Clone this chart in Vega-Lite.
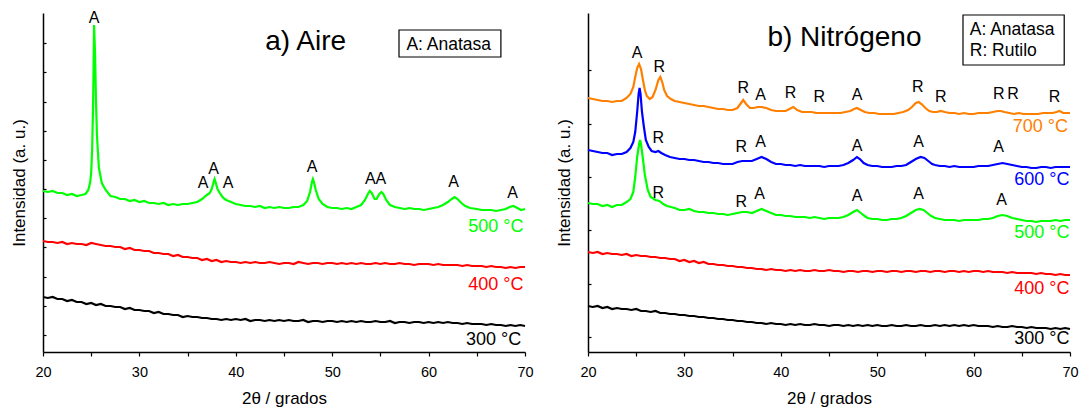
{
"$schema": "https://vega.github.io/schema/vega-lite/v6.json",
"autosize": {"type": "none"},
"padding": {"left": 43, "top": 13, "right": 1040, "bottom": 398},
"background": "white",
"bounds": "flush",
"spacing": 63,
"config": {"view": {"stroke": null}, "font": "Liberation Sans",
  "axis": {"grid": false, "domainColor": "black", "domainWidth": 1.5, "tickColor": "black", "tickWidth": 1.2, "labelColor": "black", "titleColor": "black", "titleFontWeight": "normal", "labelFontSize": 14.5, "titleFontSize": 17, "labelFont": "Liberation Sans", "titleFont": "Liberation Sans"}},
"datasets": {
"la": [
{"s":"300","x":20,"y":55},{"s":"300","x":20.5,"y":54},{"s":"300","x":21,"y":55},{"s":"300","x":21.5,"y":53},{"s":"300","x":22,"y":53},{"s":"300","x":22.5,"y":51},{"s":"300","x":23,"y":52},{"s":"300","x":23.5,"y":50},{"s":"300","x":24,"y":50},{"s":"300","x":24.5,"y":48},{"s":"300","x":25,"y":49},{"s":"300","x":25.5,"y":47},{"s":"300","x":26,"y":48},{"s":"300","x":26.5,"y":46},{"s":"300","x":27,"y":46},{"s":"300","x":27.5,"y":45},{"s":"300","x":28,"y":45},{"s":"300","x":28.5,"y":43},{"s":"300","x":29,"y":44},{"s":"300","x":29.5,"y":42},{"s":"300","x":30,"y":42},{"s":"300","x":30.5,"y":41},{"s":"300","x":31,"y":41},{"s":"300","x":31.5,"y":39},{"s":"300","x":32,"y":40},{"s":"300","x":32.5,"y":38},{"s":"300","x":33,"y":38},{"s":"300","x":33.5,"y":37},{"s":"300","x":34,"y":37},{"s":"300","x":34.5,"y":35},{"s":"300","x":35,"y":36},{"s":"300","x":35.5,"y":35},{"s":"300","x":36,"y":35},{"s":"300","x":36.5,"y":34},{"s":"300","x":37,"y":34},{"s":"300","x":37.5,"y":33},{"s":"300","x":38,"y":33},{"s":"300","x":38.5,"y":32},{"s":"300","x":39,"y":33},{"s":"300","x":39.5,"y":32},{"s":"300","x":40,"y":33},{"s":"300","x":40.5,"y":32},{"s":"300","x":41,"y":33},{"s":"300","x":41.5,"y":31},{"s":"300","x":42,"y":32},{"s":"300","x":42.5,"y":32},{"s":"300","x":43,"y":31},{"s":"300","x":43.5,"y":32},{"s":"300","x":44,"y":31},{"s":"300","x":44.5,"y":32},{"s":"300","x":45,"y":31},{"s":"300","x":45.5,"y":32},{"s":"300","x":46,"y":31},{"s":"300","x":46.5,"y":31},{"s":"300","x":47,"y":32},{"s":"300","x":47.5,"y":30},{"s":"300","x":48,"y":31},{"s":"300","x":48.5,"y":31},{"s":"300","x":49,"y":30},{"s":"300","x":49.5,"y":31},{"s":"300","x":50,"y":31},{"s":"300","x":50.5,"y":30},{"s":"300","x":51,"y":31},{"s":"300","x":51.5,"y":30},{"s":"300","x":52,"y":31},{"s":"300","x":52.5,"y":30},{"s":"300","x":53,"y":31},{"s":"300","x":53.5,"y":30},{"s":"300","x":54,"y":30},{"s":"300","x":54.5,"y":31},{"s":"300","x":55,"y":30},{"s":"300","x":55.5,"y":30},{"s":"300","x":56,"y":31},{"s":"300","x":56.5,"y":29},{"s":"300","x":57,"y":30},{"s":"300","x":57.5,"y":30},{"s":"300","x":58,"y":29},{"s":"300","x":58.5,"y":30},{"s":"300","x":59,"y":30},{"s":"300","x":59.5,"y":29},{"s":"300","x":60,"y":30},{"s":"300","x":60.5,"y":29},{"s":"300","x":61,"y":30},{"s":"300","x":61.5,"y":29},{"s":"300","x":62,"y":30},{"s":"300","x":62.5,"y":29},{"s":"300","x":63,"y":29},{"s":"300","x":63.5,"y":28},{"s":"300","x":64,"y":29},{"s":"300","x":64.5,"y":28},{"s":"300","x":65,"y":28},{"s":"300","x":65.5,"y":28},{"s":"300","x":66,"y":27},{"s":"300","x":66.5,"y":28},{"s":"300","x":67,"y":27},{"s":"300","x":67.5,"y":27},{"s":"300","x":68,"y":26},{"s":"300","x":68.5,"y":27},{"s":"300","x":69,"y":26},{"s":"300","x":69.5,"y":27},{"s":"300","x":70,"y":26},
{"s":"400","x":20,"y":111},{"s":"400","x":20.5,"y":110},{"s":"400","x":21,"y":110},{"s":"400","x":21.5,"y":109},{"s":"400","x":22,"y":110},{"s":"400","x":22.5,"y":108},{"s":"400","x":23,"y":109},{"s":"400","x":23.5,"y":108},{"s":"400","x":24,"y":108},{"s":"400","x":24.5,"y":107},{"s":"400","x":25,"y":109},{"s":"400","x":25.5,"y":108},{"s":"400","x":26,"y":107},{"s":"400","x":26.5,"y":106},{"s":"400","x":27,"y":106},{"s":"400","x":27.5,"y":105},{"s":"400","x":28,"y":105},{"s":"400","x":28.5,"y":103},{"s":"400","x":29,"y":104},{"s":"400","x":29.5,"y":102},{"s":"400","x":30,"y":102},{"s":"400","x":30.5,"y":101},{"s":"400","x":31,"y":101},{"s":"400","x":31.5,"y":99},{"s":"400","x":32,"y":99},{"s":"400","x":32.5,"y":98},{"s":"400","x":33,"y":98},{"s":"400","x":33.5,"y":96},{"s":"400","x":34,"y":97},{"s":"400","x":34.5,"y":95},{"s":"400","x":35,"y":95},{"s":"400","x":35.5,"y":94},{"s":"400","x":36,"y":94},{"s":"400","x":36.5,"y":92},{"s":"400","x":37,"y":93},{"s":"400","x":37.5,"y":91},{"s":"400","x":38,"y":92},{"s":"400","x":38.5,"y":90},{"s":"400","x":39,"y":91},{"s":"400","x":39.5,"y":90},{"s":"400","x":40,"y":90},{"s":"400","x":40.5,"y":89},{"s":"400","x":41,"y":90},{"s":"400","x":41.5,"y":89},{"s":"400","x":42,"y":90},{"s":"400","x":42.5,"y":89},{"s":"400","x":43,"y":89},{"s":"400","x":43.5,"y":90},{"s":"400","x":44,"y":89},{"s":"400","x":44.5,"y":88},{"s":"400","x":45,"y":89},{"s":"400","x":45.5,"y":89},{"s":"400","x":46,"y":88},{"s":"400","x":46.5,"y":90},{"s":"400","x":47,"y":89},{"s":"400","x":47.5,"y":88},{"s":"400","x":48,"y":89},{"s":"400","x":48.5,"y":89},{"s":"400","x":49,"y":88},{"s":"400","x":49.5,"y":89},{"s":"400","x":50,"y":89},{"s":"400","x":50.5,"y":88},{"s":"400","x":51,"y":89},{"s":"400","x":51.5,"y":88},{"s":"400","x":52,"y":89},{"s":"400","x":52.5,"y":88},{"s":"400","x":53,"y":89},{"s":"400","x":53.5,"y":88},{"s":"400","x":54,"y":88},{"s":"400","x":54.5,"y":89},{"s":"400","x":55,"y":88},{"s":"400","x":55.5,"y":89},{"s":"400","x":56,"y":88},{"s":"400","x":56.5,"y":88},{"s":"400","x":57,"y":89},{"s":"400","x":57.5,"y":88},{"s":"400","x":58,"y":88},{"s":"400","x":58.5,"y":87},{"s":"400","x":59,"y":88},{"s":"400","x":59.5,"y":88},{"s":"400","x":60,"y":88},{"s":"400","x":60.5,"y":87},{"s":"400","x":61,"y":88},{"s":"400","x":61.5,"y":87},{"s":"400","x":62,"y":87},{"s":"400","x":62.5,"y":87},{"s":"400","x":63,"y":87},{"s":"400","x":63.5,"y":86},{"s":"400","x":64,"y":87},{"s":"400","x":64.5,"y":86},{"s":"400","x":65,"y":86},{"s":"400","x":65.5,"y":86},{"s":"400","x":66,"y":85},{"s":"400","x":66.5,"y":86},{"s":"400","x":67,"y":85},{"s":"400","x":67.5,"y":85},{"s":"400","x":68,"y":84},{"s":"400","x":68.5,"y":85},{"s":"400","x":69,"y":84},{"s":"400","x":69.5,"y":85},{"s":"400","x":70,"y":85},
{"s":"500","x":20,"y":161},{"s":"500","x":20.5,"y":160},{"s":"500","x":21,"y":161},{"s":"500","x":21.5,"y":159},{"s":"500","x":22,"y":159},{"s":"500","x":22.5,"y":157},{"s":"500","x":23,"y":158},{"s":"500","x":23.5,"y":156},{"s":"500","x":24,"y":157},{"s":"500","x":24.4,"y":158},{"s":"500","x":24.7,"y":162},{"s":"500","x":24.9,"y":170},{"s":"500","x":25.0,"y":180},{"s":"500","x":25.1,"y":203},{"s":"500","x":25.2,"y":250},{"s":"500","x":25.3,"y":327},{"s":"500","x":25.4,"y":298},{"s":"500","x":25.5,"y":250},{"s":"500","x":25.6,"y":216},{"s":"500","x":25.8,"y":184},{"s":"500","x":26.1,"y":169},{"s":"500","x":26.5,"y":162},{"s":"500","x":27,"y":156},{"s":"500","x":27.5,"y":155},{"s":"500","x":28,"y":153},{"s":"500","x":28.5,"y":153},{"s":"500","x":29,"y":151},{"s":"500","x":29.5,"y":152},{"s":"500","x":30,"y":150},{"s":"500","x":30.5,"y":151},{"s":"500","x":31,"y":149},{"s":"500","x":31.5,"y":149},{"s":"500","x":32,"y":148},{"s":"500","x":32.5,"y":149},{"s":"500","x":33,"y":147},{"s":"500","x":33.5,"y":148},{"s":"500","x":34,"y":147},{"s":"500","x":34.5,"y":148},{"s":"500","x":35,"y":148},{"s":"500","x":35.5,"y":149},{"s":"500","x":36,"y":150},{"s":"500","x":36.5,"y":153},{"s":"500","x":37,"y":157},{"s":"500","x":37.3,"y":159},{"s":"500","x":37.5,"y":163},{"s":"500","x":37.7,"y":170},{"s":"500","x":37.8,"y":173},{"s":"500","x":37.9,"y":170},{"s":"500","x":38.1,"y":163},{"s":"500","x":38.4,"y":158},{"s":"500","x":38.7,"y":154},{"s":"500","x":39,"y":152},{"s":"500","x":39.5,"y":150},{"s":"500","x":40,"y":148},{"s":"500","x":40.5,"y":147},{"s":"500","x":41,"y":146},{"s":"500","x":41.5,"y":146},{"s":"500","x":42,"y":145},{"s":"500","x":42.5,"y":146},{"s":"500","x":43,"y":144},{"s":"500","x":43.5,"y":145},{"s":"500","x":44,"y":144},{"s":"500","x":44.5,"y":145},{"s":"500","x":45,"y":144},{"s":"500","x":45.5,"y":144},{"s":"500","x":46,"y":145},{"s":"500","x":46.5,"y":145},{"s":"500","x":47,"y":147},{"s":"500","x":47.4,"y":151},{"s":"500","x":47.7,"y":160},{"s":"500","x":47.9,"y":170},{"s":"500","x":48.0,"y":173},{"s":"500","x":48.1,"y":170},{"s":"500","x":48.3,"y":162},{"s":"500","x":48.6,"y":153},{"s":"500","x":49,"y":148},{"s":"500","x":49.5,"y":145},{"s":"500","x":50,"y":144},{"s":"500","x":50.5,"y":144},{"s":"500","x":51,"y":143},{"s":"500","x":51.5,"y":144},{"s":"500","x":52,"y":143},{"s":"500","x":52.5,"y":145},{"s":"500","x":53,"y":147},{"s":"500","x":53.4,"y":152},{"s":"500","x":53.7,"y":158},{"s":"500","x":53.9,"y":161},{"s":"500","x":54.1,"y":159},{"s":"500","x":54.4,"y":153},{"s":"500","x":54.6,"y":153},{"s":"500","x":54.9,"y":158},{"s":"500","x":55.1,"y":160},{"s":"500","x":55.3,"y":158},{"s":"500","x":55.6,"y":152},{"s":"500","x":56,"y":147},{"s":"500","x":56.5,"y":145},{"s":"500","x":57,"y":144},{"s":"500","x":57.5,"y":143},{"s":"500","x":58,"y":144},{"s":"500","x":58.5,"y":143},{"s":"500","x":59,"y":143},{"s":"500","x":59.5,"y":142},{"s":"500","x":60,"y":143},{"s":"500","x":60.5,"y":144},{"s":"500","x":61,"y":145},{"s":"500","x":61.5,"y":147},{"s":"500","x":62,"y":150},{"s":"500","x":62.4,"y":153},{"s":"500","x":62.7,"y":155},{"s":"500","x":63,"y":153},{"s":"500","x":63.4,"y":149},{"s":"500","x":63.8,"y":146},{"s":"500","x":64.3,"y":144},{"s":"500","x":65,"y":143},{"s":"500","x":65.5,"y":142},{"s":"500","x":66,"y":142},{"s":"500","x":66.5,"y":142},{"s":"500","x":67,"y":141},{"s":"500","x":67.5,"y":142},{"s":"500","x":68,"y":143},{"s":"500","x":68.4,"y":145},{"s":"500","x":68.8,"y":146},{"s":"500","x":69.2,"y":144},{"s":"500","x":69.6,"y":142},{"s":"500","x":70,"y":143}
],
"lb": [
{"s":"700","x":20,"y":254},{"s":"700","x":20.5,"y":253},{"s":"700","x":21,"y":252},{"s":"700","x":21.5,"y":251},{"s":"700","x":22,"y":251},{"s":"700","x":22.5,"y":250},{"s":"700","x":23,"y":251},{"s":"700","x":23.5,"y":251},{"s":"700","x":24,"y":254},{"s":"700","x":24.4,"y":258},{"s":"700","x":24.7,"y":265},{"s":"700","x":24.9,"y":275},{"s":"700","x":25.1,"y":284},{"s":"700","x":25.3,"y":288},{"s":"700","x":25.5,"y":283},{"s":"700","x":25.7,"y":272},{"s":"700","x":25.9,"y":262},{"s":"700","x":26.1,"y":256},{"s":"700","x":26.4,"y":253},{"s":"700","x":26.7,"y":255},{"s":"700","x":27.0,"y":262},{"s":"700","x":27.3,"y":272},{"s":"700","x":27.5,"y":275},{"s":"700","x":27.7,"y":270},{"s":"700","x":27.9,"y":262},{"s":"700","x":28.2,"y":256},{"s":"700","x":28.6,"y":253},{"s":"700","x":29,"y":251},{"s":"700","x":29.5,"y":250},{"s":"700","x":30,"y":249},{"s":"700","x":30.5,"y":248},{"s":"700","x":31,"y":247},{"s":"700","x":31.5,"y":246},{"s":"700","x":32,"y":246},{"s":"700","x":32.5,"y":245},{"s":"700","x":33,"y":244},{"s":"700","x":33.5,"y":243},{"s":"700","x":34,"y":243},{"s":"700","x":34.5,"y":242},{"s":"700","x":35,"y":242},{"s":"700","x":35.5,"y":244},{"s":"700","x":35.8,"y":248},{"s":"700","x":36.1,"y":252},{"s":"700","x":36.4,"y":248},{"s":"700","x":36.8,"y":244},{"s":"700","x":37.2,"y":244},{"s":"700","x":37.6,"y":245},{"s":"700","x":38,"y":245},{"s":"700","x":38.5,"y":244},{"s":"700","x":39,"y":242},{"s":"700","x":39.5,"y":241},{"s":"700","x":40,"y":241},{"s":"700","x":40.5,"y":241},{"s":"700","x":40.9,"y":243},{"s":"700","x":41.3,"y":245},{"s":"700","x":41.7,"y":242},{"s":"700","x":42.2,"y":240},{"s":"700","x":42.7,"y":240},{"s":"700","x":43.2,"y":240},{"s":"700","x":43.7,"y":239},{"s":"700","x":44.2,"y":239},{"s":"700","x":44.7,"y":239},{"s":"700","x":45.2,"y":239},{"s":"700","x":45.7,"y":239},{"s":"700","x":46.2,"y":239},{"s":"700","x":46.7,"y":240},{"s":"700","x":47.2,"y":241},{"s":"700","x":47.6,"y":243},{"s":"700","x":47.9,"y":244},{"s":"700","x":48.3,"y":242},{"s":"700","x":48.7,"y":240},{"s":"700","x":49.2,"y":239},{"s":"700","x":49.7,"y":239},{"s":"700","x":50.2,"y":238},{"s":"700","x":50.7,"y":238},{"s":"700","x":51.2,"y":238},{"s":"700","x":51.7,"y":238},{"s":"700","x":52.2,"y":239},{"s":"700","x":52.7,"y":240},{"s":"700","x":53.2,"y":242},{"s":"700","x":53.6,"y":245},{"s":"700","x":54,"y":249},{"s":"700","x":54.3,"y":250},{"s":"700","x":54.6,"y":248},{"s":"700","x":55,"y":244},{"s":"700","x":55.4,"y":241},{"s":"700","x":55.8,"y":240},{"s":"700","x":56.2,"y":240},{"s":"700","x":56.6,"y":241},{"s":"700","x":57,"y":240},{"s":"700","x":57.5,"y":239},{"s":"700","x":58,"y":239},{"s":"700","x":58.5,"y":238},{"s":"700","x":59,"y":239},{"s":"700","x":59.5,"y":238},{"s":"700","x":60,"y":238},{"s":"700","x":60.5,"y":239},{"s":"700","x":61,"y":239},{"s":"700","x":61.5,"y":239},{"s":"700","x":62,"y":240},{"s":"700","x":62.5,"y":241},{"s":"700","x":62.8,"y":241},{"s":"700","x":63.2,"y":240},{"s":"700","x":63.7,"y":239},{"s":"700","x":64.2,"y":238},{"s":"700","x":64.7,"y":239},{"s":"700","x":65.2,"y":238},{"s":"700","x":65.7,"y":238},{"s":"700","x":66.2,"y":238},{"s":"700","x":66.7,"y":238},{"s":"700","x":67.2,"y":239},{"s":"700","x":67.7,"y":239},{"s":"700","x":68.2,"y":239},{"s":"700","x":68.6,"y":240},{"s":"700","x":68.9,"y":241},{"s":"700","x":69.3,"y":239},{"s":"700","x":69.7,"y":239},{"s":"700","x":70,"y":239},
{"s":"600","x":20,"y":202},{"s":"600","x":20.5,"y":201},{"s":"600","x":21,"y":200},{"s":"600","x":21.5,"y":199},{"s":"600","x":22,"y":199},{"s":"600","x":22.5,"y":197},{"s":"600","x":23,"y":198},{"s":"600","x":23.5,"y":198},{"s":"600","x":24,"y":200},{"s":"600","x":24.4,"y":204},{"s":"600","x":24.7,"y":210},{"s":"600","x":24.9,"y":220},{"s":"600","x":25.1,"y":240},{"s":"600","x":25.25,"y":258},{"s":"600","x":25.35,"y":264},{"s":"600","x":25.45,"y":258},{"s":"600","x":25.6,"y":240},{"s":"600","x":25.8,"y":225},{"s":"600","x":26.0,"y":212},{"s":"600","x":26.3,"y":205},{"s":"600","x":26.6,"y":201},{"s":"600","x":27,"y":200},{"s":"600","x":27.3,"y":201},{"s":"600","x":27.6,"y":199},{"s":"600","x":28,"y":197},{"s":"600","x":28.5,"y":195},{"s":"600","x":29,"y":194},{"s":"600","x":29.5,"y":193},{"s":"600","x":30,"y":193},{"s":"600","x":30.5,"y":192},{"s":"600","x":31,"y":192},{"s":"600","x":31.5,"y":191},{"s":"600","x":32,"y":190},{"s":"600","x":32.5,"y":190},{"s":"600","x":33,"y":189},{"s":"600","x":33.5,"y":189},{"s":"600","x":34,"y":188},{"s":"600","x":34.5,"y":188},{"s":"600","x":35,"y":188},{"s":"600","x":35.5,"y":190},{"s":"600","x":36,"y":191},{"s":"600","x":36.5,"y":191},{"s":"600","x":37,"y":191},{"s":"600","x":37.5,"y":193},{"s":"600","x":38,"y":195},{"s":"600","x":38.5,"y":193},{"s":"600","x":39,"y":190},{"s":"600","x":39.5,"y":188},{"s":"600","x":40,"y":188},{"s":"600","x":40.5,"y":187},{"s":"600","x":41,"y":187},{"s":"600","x":41.5,"y":186},{"s":"600","x":42,"y":187},{"s":"600","x":42.5,"y":186},{"s":"600","x":43,"y":186},{"s":"600","x":43.5,"y":186},{"s":"600","x":44,"y":186},{"s":"600","x":44.5,"y":185},{"s":"600","x":45,"y":186},{"s":"600","x":45.5,"y":186},{"s":"600","x":46,"y":186},{"s":"600","x":46.5,"y":187},{"s":"600","x":47,"y":189},{"s":"600","x":47.5,"y":192},{"s":"600","x":47.9,"y":195},{"s":"600","x":48.2,"y":193},{"s":"600","x":48.6,"y":189},{"s":"600","x":49,"y":187},{"s":"600","x":49.5,"y":186},{"s":"600","x":50,"y":186},{"s":"600","x":50.5,"y":185},{"s":"600","x":51,"y":185},{"s":"600","x":51.5,"y":185},{"s":"600","x":52,"y":186},{"s":"600","x":52.5,"y":186},{"s":"600","x":53,"y":187},{"s":"600","x":53.5,"y":190},{"s":"600","x":54,"y":193},{"s":"600","x":54.5,"y":195},{"s":"600","x":54.9,"y":194},{"s":"600","x":55.3,"y":191},{"s":"600","x":55.7,"y":188},{"s":"600","x":56,"y":187},{"s":"600","x":56.5,"y":186},{"s":"600","x":57,"y":186},{"s":"600","x":57.5,"y":185},{"s":"600","x":58,"y":186},{"s":"600","x":58.5,"y":185},{"s":"600","x":59,"y":185},{"s":"600","x":59.5,"y":185},{"s":"600","x":60,"y":185},{"s":"600","x":60.5,"y":186},{"s":"600","x":61,"y":186},{"s":"600","x":61.5,"y":186},{"s":"600","x":62,"y":187},{"s":"600","x":62.5,"y":188},{"s":"600","x":63,"y":189},{"s":"600","x":63.5,"y":188},{"s":"600","x":64,"y":187},{"s":"600","x":64.5,"y":186},{"s":"600","x":65,"y":185},{"s":"600","x":65.5,"y":185},{"s":"600","x":66,"y":184},{"s":"600","x":66.5,"y":184},{"s":"600","x":67,"y":185},{"s":"600","x":67.5,"y":185},{"s":"600","x":68,"y":184},{"s":"600","x":68.5,"y":185},{"s":"600","x":69,"y":185},{"s":"600","x":69.5,"y":185},{"s":"600","x":70,"y":185},
{"s":"500","x":20,"y":149},{"s":"500","x":20.5,"y":148},{"s":"500","x":21,"y":148},{"s":"500","x":21.5,"y":146},{"s":"500","x":22,"y":147},{"s":"500","x":22.5,"y":145},{"s":"500","x":23,"y":147},{"s":"500","x":23.5,"y":147},{"s":"500","x":24,"y":150},{"s":"500","x":24.4,"y":153},{"s":"500","x":24.7,"y":160},{"s":"500","x":24.9,"y":175},{"s":"500","x":25.1,"y":195},{"s":"500","x":25.3,"y":208},{"s":"500","x":25.4,"y":212},{"s":"500","x":25.5,"y":208},{"s":"500","x":25.7,"y":193},{"s":"500","x":25.9,"y":177},{"s":"500","x":26.2,"y":162},{"s":"500","x":26.5,"y":155},{"s":"500","x":27,"y":152},{"s":"500","x":27.4,"y":151},{"s":"500","x":27.8,"y":148},{"s":"500","x":28.2,"y":146},{"s":"500","x":28.6,"y":145},{"s":"500","x":29,"y":144},{"s":"500","x":29.5,"y":142},{"s":"500","x":30,"y":142},{"s":"500","x":30.5,"y":143},{"s":"500","x":31,"y":141},{"s":"500","x":31.5,"y":140},{"s":"500","x":32,"y":140},{"s":"500","x":32.5,"y":139},{"s":"500","x":33,"y":139},{"s":"500","x":33.5,"y":138},{"s":"500","x":34,"y":138},{"s":"500","x":34.5,"y":137},{"s":"500","x":35,"y":138},{"s":"500","x":35.5,"y":139},{"s":"500","x":36,"y":140},{"s":"500","x":36.5,"y":140},{"s":"500","x":37,"y":139},{"s":"500","x":37.5,"y":141},{"s":"500","x":38,"y":143},{"s":"500","x":38.5,"y":141},{"s":"500","x":39,"y":139},{"s":"500","x":39.5,"y":137},{"s":"500","x":40,"y":137},{"s":"500","x":40.5,"y":136},{"s":"500","x":41,"y":136},{"s":"500","x":41.5,"y":135},{"s":"500","x":42,"y":135},{"s":"500","x":42.5,"y":135},{"s":"500","x":43,"y":134},{"s":"500","x":43.5,"y":135},{"s":"500","x":44,"y":134},{"s":"500","x":44.5,"y":133},{"s":"500","x":45,"y":134},{"s":"500","x":45.5,"y":134},{"s":"500","x":46,"y":134},{"s":"500","x":46.5,"y":135},{"s":"500","x":47,"y":137},{"s":"500","x":47.5,"y":140},{"s":"500","x":47.9,"y":142},{"s":"500","x":48.3,"y":139},{"s":"500","x":48.7,"y":136},{"s":"500","x":49,"y":134},{"s":"500","x":49.5,"y":133},{"s":"500","x":50,"y":133},{"s":"500","x":50.5,"y":132},{"s":"500","x":51,"y":132},{"s":"500","x":51.5,"y":133},{"s":"500","x":52,"y":133},{"s":"500","x":52.5,"y":134},{"s":"500","x":53,"y":136},{"s":"500","x":53.5,"y":139},{"s":"500","x":54,"y":142},{"s":"500","x":54.4,"y":143},{"s":"500","x":54.8,"y":142},{"s":"500","x":55.2,"y":139},{"s":"500","x":55.6,"y":136},{"s":"500","x":56,"y":134},{"s":"500","x":56.5,"y":133},{"s":"500","x":57,"y":132},{"s":"500","x":57.5,"y":132},{"s":"500","x":58,"y":132},{"s":"500","x":58.5,"y":131},{"s":"500","x":59,"y":132},{"s":"500","x":59.5,"y":132},{"s":"500","x":60,"y":132},{"s":"500","x":60.5,"y":132},{"s":"500","x":61,"y":133},{"s":"500","x":61.5,"y":133},{"s":"500","x":62,"y":134},{"s":"500","x":62.5,"y":136},{"s":"500","x":63,"y":137},{"s":"500","x":63.5,"y":136},{"s":"500","x":64,"y":134},{"s":"500","x":64.5,"y":133},{"s":"500","x":65,"y":132},{"s":"500","x":65.5,"y":131},{"s":"500","x":66,"y":131},{"s":"500","x":66.5,"y":130},{"s":"500","x":67,"y":131},{"s":"500","x":67.5,"y":131},{"s":"500","x":68,"y":131},{"s":"500","x":68.5,"y":132},{"s":"500","x":69,"y":131},{"s":"500","x":69.5,"y":132},{"s":"500","x":70,"y":132},
{"s":"400","x":20,"y":100},{"s":"400","x":20.5,"y":99},{"s":"400","x":21,"y":100},{"s":"400","x":21.5,"y":98},{"s":"400","x":22,"y":99},{"s":"400","x":22.5,"y":98},{"s":"400","x":23,"y":98},{"s":"400","x":23.5,"y":97},{"s":"400","x":24,"y":98},{"s":"400","x":24.5,"y":96},{"s":"400","x":25,"y":97},{"s":"400","x":25.5,"y":96},{"s":"400","x":26,"y":96},{"s":"400","x":26.5,"y":95},{"s":"400","x":27,"y":95},{"s":"400","x":27.5,"y":94},{"s":"400","x":28,"y":94},{"s":"400","x":28.5,"y":93},{"s":"400","x":29,"y":93},{"s":"400","x":29.5,"y":91},{"s":"400","x":30,"y":92},{"s":"400","x":30.5,"y":90},{"s":"400","x":31,"y":91},{"s":"400","x":31.5,"y":89},{"s":"400","x":32,"y":90},{"s":"400","x":32.5,"y":88},{"s":"400","x":33,"y":88},{"s":"400","x":33.5,"y":87},{"s":"400","x":34,"y":87},{"s":"400","x":34.5,"y":86},{"s":"400","x":35,"y":86},{"s":"400","x":35.5,"y":85},{"s":"400","x":36,"y":85},{"s":"400","x":36.5,"y":84},{"s":"400","x":37,"y":84},{"s":"400","x":37.5,"y":83},{"s":"400","x":38,"y":83},{"s":"400","x":38.5,"y":82},{"s":"400","x":39,"y":83},{"s":"400","x":39.5,"y":82},{"s":"400","x":40,"y":82},{"s":"400","x":40.5,"y":81},{"s":"400","x":41,"y":82},{"s":"400","x":41.5,"y":81},{"s":"400","x":42,"y":82},{"s":"400","x":42.5,"y":81},{"s":"400","x":43,"y":81},{"s":"400","x":43.5,"y":82},{"s":"400","x":44,"y":81},{"s":"400","x":44.5,"y":81},{"s":"400","x":45,"y":82},{"s":"400","x":45.5,"y":81},{"s":"400","x":46,"y":81},{"s":"400","x":46.5,"y":80},{"s":"400","x":47,"y":81},{"s":"400","x":47.5,"y":81},{"s":"400","x":48,"y":80},{"s":"400","x":48.5,"y":81},{"s":"400","x":49,"y":81},{"s":"400","x":49.5,"y":80},{"s":"400","x":50,"y":81},{"s":"400","x":50.5,"y":81},{"s":"400","x":51,"y":80},{"s":"400","x":51.5,"y":81},{"s":"400","x":52,"y":81},{"s":"400","x":52.5,"y":80},{"s":"400","x":53,"y":81},{"s":"400","x":53.5,"y":81},{"s":"400","x":54,"y":80},{"s":"400","x":54.5,"y":81},{"s":"400","x":55,"y":81},{"s":"400","x":55.5,"y":80},{"s":"400","x":56,"y":81},{"s":"400","x":56.5,"y":81},{"s":"400","x":57,"y":80},{"s":"400","x":57.5,"y":81},{"s":"400","x":58,"y":81},{"s":"400","x":58.5,"y":80},{"s":"400","x":59,"y":81},{"s":"400","x":59.5,"y":80},{"s":"400","x":60,"y":81},{"s":"400","x":60.5,"y":81},{"s":"400","x":61,"y":80},{"s":"400","x":61.5,"y":81},{"s":"400","x":62,"y":80},{"s":"400","x":62.5,"y":80},{"s":"400","x":63,"y":80},{"s":"400","x":63.5,"y":79},{"s":"400","x":64,"y":80},{"s":"400","x":64.5,"y":79},{"s":"400","x":65,"y":79},{"s":"400","x":65.5,"y":79},{"s":"400","x":66,"y":79},{"s":"400","x":66.5,"y":78},{"s":"400","x":67,"y":79},{"s":"400","x":67.5,"y":78},{"s":"400","x":68,"y":78},{"s":"400","x":68.5,"y":77},{"s":"400","x":69,"y":78},{"s":"400","x":69.5,"y":77},{"s":"400","x":70,"y":77},
{"s":"300","x":20,"y":46},{"s":"300","x":20.5,"y":45},{"s":"300","x":21,"y":46},{"s":"300","x":21.5,"y":44},{"s":"300","x":22,"y":45},{"s":"300","x":22.5,"y":43},{"s":"300","x":23,"y":44},{"s":"300","x":23.5,"y":43},{"s":"300","x":24,"y":43},{"s":"300","x":24.5,"y":42},{"s":"300","x":25,"y":43},{"s":"300","x":25.5,"y":41},{"s":"300","x":26,"y":41},{"s":"300","x":26.5,"y":40},{"s":"300","x":27,"y":41},{"s":"300","x":27.5,"y":39},{"s":"300","x":28,"y":39},{"s":"300","x":28.5,"y":38},{"s":"300","x":29,"y":38},{"s":"300","x":29.5,"y":37},{"s":"300","x":30,"y":37},{"s":"300","x":30.5,"y":36},{"s":"300","x":31,"y":36},{"s":"300","x":31.5,"y":35},{"s":"300","x":32,"y":35},{"s":"300","x":32.5,"y":34},{"s":"300","x":33,"y":34},{"s":"300","x":33.5,"y":33},{"s":"300","x":34,"y":33},{"s":"300","x":34.5,"y":32},{"s":"300","x":35,"y":32},{"s":"300","x":35.5,"y":31},{"s":"300","x":36,"y":31},{"s":"300","x":36.5,"y":30},{"s":"300","x":37,"y":30},{"s":"300","x":37.5,"y":29},{"s":"300","x":38,"y":29},{"s":"300","x":38.5,"y":28},{"s":"300","x":39,"y":29},{"s":"300","x":39.5,"y":28},{"s":"300","x":40,"y":28},{"s":"300","x":40.5,"y":27},{"s":"300","x":41,"y":28},{"s":"300","x":41.5,"y":27},{"s":"300","x":42,"y":28},{"s":"300","x":42.5,"y":27},{"s":"300","x":43,"y":27},{"s":"300","x":43.5,"y":28},{"s":"300","x":44,"y":27},{"s":"300","x":44.5,"y":27},{"s":"300","x":45,"y":26},{"s":"300","x":45.5,"y":27},{"s":"300","x":46,"y":27},{"s":"300","x":46.5,"y":26},{"s":"300","x":47,"y":27},{"s":"300","x":47.5,"y":26},{"s":"300","x":48,"y":27},{"s":"300","x":48.5,"y":26},{"s":"300","x":49,"y":27},{"s":"300","x":49.5,"y":26},{"s":"300","x":50,"y":27},{"s":"300","x":50.5,"y":26},{"s":"300","x":51,"y":26},{"s":"300","x":51.5,"y":27},{"s":"300","x":52,"y":26},{"s":"300","x":52.5,"y":26},{"s":"300","x":53,"y":27},{"s":"300","x":53.5,"y":26},{"s":"300","x":54,"y":26},{"s":"300","x":54.5,"y":27},{"s":"300","x":55,"y":26},{"s":"300","x":55.5,"y":26},{"s":"300","x":56,"y":27},{"s":"300","x":56.5,"y":26},{"s":"300","x":57,"y":27},{"s":"300","x":57.5,"y":26},{"s":"300","x":58,"y":27},{"s":"300","x":58.5,"y":26},{"s":"300","x":59,"y":27},{"s":"300","x":59.5,"y":26},{"s":"300","x":60,"y":27},{"s":"300","x":60.5,"y":26},{"s":"300","x":61,"y":26},{"s":"300","x":61.5,"y":26},{"s":"300","x":62,"y":25},{"s":"300","x":62.5,"y":26},{"s":"300","x":63,"y":25},{"s":"300","x":63.5,"y":25},{"s":"300","x":64,"y":26},{"s":"300","x":64.5,"y":25},{"s":"300","x":65,"y":25},{"s":"300","x":65.5,"y":24},{"s":"300","x":66,"y":25},{"s":"300","x":66.5,"y":24},{"s":"300","x":67,"y":24},{"s":"300","x":67.5,"y":24},{"s":"300","x":68,"y":23},{"s":"300","x":68.5,"y":24},{"s":"300","x":69,"y":23},{"s":"300","x":69.5,"y":24},{"s":"300","x":70,"y":23}
],
"ann": [
{"p":"a","x":25.3,"y":334,"t":"A"},{"p":"a","x":36.6,"y":169,"t":"A"},{"p":"a","x":37.7,"y":183,"t":"A"},{"p":"a","x":39.2,"y":169,"t":"A"},{"p":"a","x":47.9,"y":185,"t":"A"},{"p":"a","x":54.5,"y":173,"t":"AA"},{"p":"a","x":62.6,"y":170,"t":"A"},{"p":"a","x":68.7,"y":159,"t":"A"},
{"p":"b","x":25.1,"y":299,"t":"A"},{"p":"b","x":27.4,"y":285,"t":"R"},{"p":"b","x":27.3,"y":214,"t":"R"},{"p":"b","x":27.3,"y":159,"t":"R"},{"p":"b","x":36.1,"y":264,"t":"R"},{"p":"b","x":37.9,"y":257,"t":"A"},{"p":"b","x":41.0,"y":259,"t":"R"},{"p":"b","x":44.0,"y":255,"t":"R"},{"p":"b","x":35.9,"y":205,"t":"R"},{"p":"b","x":37.9,"y":210,"t":"A"},{"p":"b","x":35.9,"y":150,"t":"R"},{"p":"b","x":37.8,"y":158,"t":"A"},{"p":"b","x":47.9,"y":257,"t":"A"},{"p":"b","x":54.2,"y":265,"t":"R"},{"p":"b","x":56.6,"y":255,"t":"R"},{"p":"b","x":62.6,"y":258,"t":"R"},{"p":"b","x":64.1,"y":258,"t":"R"},{"p":"b","x":68.4,"y":255,"t":"R"},{"p":"b","x":47.9,"y":206,"t":"A"},{"p":"b","x":54.3,"y":210,"t":"A"},{"p":"b","x":62.6,"y":205,"t":"A"},{"p":"b","x":47.9,"y":156,"t":"A"},{"p":"b","x":54.3,"y":158,"t":"A"},{"p":"b","x":62.9,"y":152,"t":"A"}
],
"temp": [
{"p":"a","s":"500","x":69.85,"y":125,"t":"500 °C"},{"p":"a","s":"400","x":69.85,"y":67,"t":"400 °C"},{"p":"a","s":"300","x":69.6,"y":12,"t":"300 °C"},
{"p":"b","s":"700","x":69.8,"y":225,"t":"700 °C"},{"p":"b","s":"600","x":69.95,"y":172,"t":"600 °C"},{"p":"b","s":"500","x":69.95,"y":119,"t":"500 °C"},{"p":"b","s":"400","x":69.95,"y":63,"t":"400 °C"},{"p":"b","s":"300","x":69.95,"y":13,"t":"300 °C"}
],
"ttl": [{"p":"a","x":47.25,"y":302,"t":"a) Aire"},{"p":"b","x":46.6,"y":306,"t":"b) Nitrógeno"}],
"leg": [{"p":"a","x":57.7,"y":307.5,"t":"A: Anatasa"},{"p":"b","x":59.6,"y":322.5,"t":"A: Anatasa"},{"p":"b","x":59.6,"y":301.5,"t":"R: Rutilo"}],
"box": [{"p":"a","x":56.93,"xe":67.5,"y":295,"ye":322},{"p":"b","x":58.9,"xe":69.4,"y":287,"ye":337}]
},
"hconcat": [
{
 "width": 482, "height": 339,
 "encoding": {
  "x": {"field": "x", "type": "quantitative", "scale": {"domain": [20, 70], "nice": false, "zero": false},
   "axis": {"title": "2θ / grados", "values": [20,25,30,35,40,45,50,55,60,65,70], "labelExpr": "datum.value % 10 === 0 ? datum.label : ''", "labelFlush": false, "labelOverlap": false, "tickSize": 4, "labelPadding": 9, "titlePadding": 12}},
  "y": {"field": "y", "type": "quantitative", "scale": {"domain": [0, 339], "nice": false, "zero": false},
   "axis": {"title": "Intensidad (a. u.)", "values": [17,46,75,105,134,163,192,221,250,280,309], "labels": false, "tickSize": -3, "titlePadding": 14}}
 },
 "layer": [
  {"data": {"name": "la"}, "mark": {"type": "line", "strokeWidth": 2.2},
   "encoding": {"color": {"field": "s", "type": "nominal", "scale": {"domain": ["300","400","500","600","700"], "range": ["#000000","#ff0000","#00ff00","#0000ff","#ff8000"]}, "legend": null}}},
  {"data": {"name": "box"}, "transform": [{"filter": "datum.p === 'a'"}], "mark": {"type": "rect", "fill": "white", "stroke": "black", "strokeWidth": 1.2},
   "encoding": {"x2": {"field": "xe"}, "y2": {"field": "ye"}}},
  {"data": {"name": "leg"}, "transform": [{"filter": "datum.p === 'a'"}], "mark": {"type": "text", "fontSize": 17.5, "align": "left", "baseline": "middle", "color": "black"},
   "encoding": {"text": {"field": "t"}}},
  {"data": {"name": "ttl"}, "transform": [{"filter": "datum.p === 'a'"}], "mark": {"type": "text", "fontSize": 28, "align": "center", "baseline": "alphabetic", "color": "black"},
   "encoding": {"text": {"field": "t"}}},
  {"data": {"name": "ann"}, "transform": [{"filter": "datum.p === 'a'"}], "mark": {"type": "text", "fontSize": 16, "align": "center", "baseline": "middle", "color": "black"},
   "encoding": {"text": {"field": "t"}}},
  {"data": {"name": "temp"}, "transform": [{"filter": "datum.p === 'a'"}], "mark": {"type": "text", "fontSize": 18, "align": "right", "baseline": "middle"},
   "encoding": {"text": {"field": "t"}, "color": {"field": "s", "type": "nominal", "scale": {"domain": ["300","400","500","600","700"], "range": ["#000000","#ff0000","#00ff00","#0000ff","#ff8000"]}, "legend": null}}}
 ]
},
{
 "width": 482, "height": 339,
 "encoding": {
  "x": {"field": "x", "type": "quantitative", "scale": {"domain": [20, 70], "nice": false, "zero": false},
   "axis": {"title": "2θ / grados", "values": [20,25,30,35,40,45,50,55,60,65,70], "labelExpr": "datum.value % 10 === 0 ? datum.label : ''", "labelFlush": false, "labelOverlap": false, "tickSize": 4, "labelPadding": 9, "titlePadding": 12}},
  "y": {"field": "y", "type": "quantitative", "scale": {"domain": [0, 339], "nice": false, "zero": false},
   "axis": {"title": "Intensidad (a. u.)", "values": [15,68,122,175,228,282], "labels": false, "tickSize": -3, "titlePadding": 14}}
 },
 "layer": [
  {"data": {"name": "lb"}, "mark": {"type": "line", "strokeWidth": 2.2},
   "encoding": {"color": {"field": "s", "type": "nominal", "scale": {"domain": ["300","400","500","600","700"], "range": ["#000000","#ff0000","#00ff00","#0000ff","#ff8000"]}, "legend": null}}},
  {"data": {"name": "box"}, "transform": [{"filter": "datum.p === 'b'"}], "mark": {"type": "rect", "fill": "white", "stroke": "black", "strokeWidth": 1.2},
   "encoding": {"x2": {"field": "xe"}, "y2": {"field": "ye"}}},
  {"data": {"name": "leg"}, "transform": [{"filter": "datum.p === 'b'"}], "mark": {"type": "text", "fontSize": 17.5, "align": "left", "baseline": "middle", "color": "black"},
   "encoding": {"text": {"field": "t"}}},
  {"data": {"name": "ttl"}, "transform": [{"filter": "datum.p === 'b'"}], "mark": {"type": "text", "fontSize": 28, "align": "center", "baseline": "alphabetic", "color": "black"},
   "encoding": {"text": {"field": "t"}}},
  {"data": {"name": "ann"}, "transform": [{"filter": "datum.p === 'b'"}], "mark": {"type": "text", "fontSize": 16, "align": "center", "baseline": "middle", "color": "black"},
   "encoding": {"text": {"field": "t"}}},
  {"data": {"name": "temp"}, "transform": [{"filter": "datum.p === 'b'"}], "mark": {"type": "text", "fontSize": 18, "align": "right", "baseline": "middle"},
   "encoding": {"text": {"field": "t"}, "color": {"field": "s", "type": "nominal", "scale": {"domain": ["300","400","500","600","700"], "range": ["#000000","#ff0000","#00ff00","#0000ff","#ff8000"]}, "legend": null}}}
 ]
}
]
}
